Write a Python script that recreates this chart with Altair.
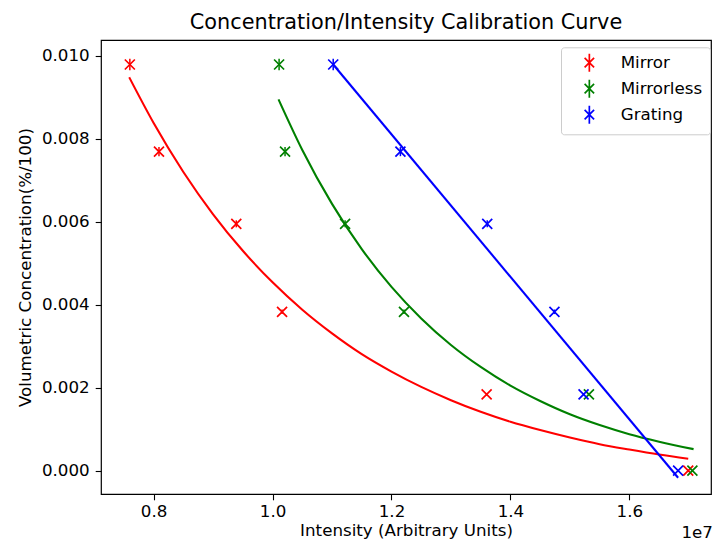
import altair as alt
import pandas as pd

series = ["Mirror", "Mirrorless", "Grating"]
colors = ["#ff0000", "#008000", "#0000ff"]

# measured concentrations (same levels for every spectrometer)
concentration = [0.00979, 0.00769, 0.00595, 0.00383, 0.00184, 0.0]
conc_err = [0.00014, 0.00011, 0.000085, 0.000055, 0.000026, 0.0]

mirror_intensity = [7.60e6, 8.09e6, 9.39e6, 10.16e6, 13.60e6, 16.99e6]
mirrorless_intensity = [10.11e6, 10.21e6, 11.22e6, 12.21e6, 15.32e6, 17.06e6]
grating_intensity = [11.02e6, 12.15e6, 13.61e6, 14.74e6, 15.23e6, 16.82e6]

# fitted curves
mirror_fit_x = [7.59e6, 8.0e6, 8.5e6, 9.0e6, 9.5e6, 10.0e6, 10.5e6, 11.0e6, 11.5e6, 12.0e6,
                12.5e6, 13.0e6, 13.5e6, 14.0e6, 14.5e6, 15.0e6, 15.5e6, 16.0e6, 16.5e6, 16.99e6]
mirror_fit_y = [0.00948, 0.00838, 0.00720, 0.00618, 0.00530, 0.00454, 0.00388, 0.00331,
                0.00281, 0.00239, 0.00202, 0.00170, 0.00142, 0.00118, 0.00098, 0.00080,
                0.00064, 0.00051, 0.00039, 0.00029]
mirrorless_fit_x = [10.10e6, 10.5e6, 11.0e6, 11.5e6, 12.0e6, 12.5e6, 13.0e6, 13.5e6, 14.0e6,
                    14.5e6, 15.0e6, 15.5e6, 16.0e6, 16.5e6, 17.08e6]
mirrorless_fit_y = [0.00895, 0.00773, 0.00643, 0.00534, 0.00443, 0.00367, 0.00303, 0.00250,
                    0.00205, 0.00168, 0.00136, 0.00110, 0.00088, 0.00070, 0.00052]
grating_fit_x = [11.02e6, 16.82e6]
grating_fit_y = [0.00979, -0.00017]

x_ticks = [8e6, 1.0e7, 1.2e7, 1.4e7, 1.6e7]
y_ticks = [0.0, 0.002, 0.004, 0.006, 0.008, 0.010]
x_domain = [7.115e6, 17.373e6]
y_domain = [-0.000561, 0.01038]

rows = []
for s, xs in zip(series, [mirror_intensity, mirrorless_intensity, grating_intensity]):
    for xv, yv, e in zip(xs, concentration, conc_err):
        rows.append({"series": s, "intensity": xv, "conc": yv, "lo": yv - e, "hi": yv + e})
pts = pd.DataFrame(rows)

frows = []
for s, xs, ys in zip(series, [mirror_fit_x, mirrorless_fit_x, grating_fit_x],
                     [mirror_fit_y, mirrorless_fit_y, grating_fit_y]):
    for i, (xv, yv) in enumerate(zip(xs, ys)):
        frows.append({"series": s, "intensity": xv, "conc": yv, "i": i})
fits = pd.DataFrame(frows)

FONT = "DejaVu Sans"
xscale = alt.Scale(domain=x_domain, nice=False, zero=False)
yscale = alt.Scale(domain=y_domain, nice=False, zero=False)
cscale = alt.Scale(domain=series, range=colors)

xaxis = alt.Axis(values=x_ticks, labelExpr="format(datum.value/1e7, '.1f')",
                 title="Intensity (Arbitrary Units)", tickSize=5.8, labelPadding=4,
                 titlePadding=2)
yaxis = alt.Axis(values=y_ticks, format=".3f", title="Volumetric Concentration(%/100)",
                 tickSize=5.8, labelPadding=6, titlePadding=7)

x_path = "M-1,-1L1,1M1,-1L-1,1"
legend_path = "M-1,-1L1,1M1,-1L-1,1M0,-1.9L0,1.9"

legend = alt.Legend(orient="none", legendX=460, legendY=7.3, symbolType=legend_path,
                    symbolSize=90, symbolStrokeWidth=1.7, fillColor="rgba(255,255,255,0.8)",
                    strokeColor="#cccccc", cornerRadius=3, padding=7, symbolOffset=13,
                    labelOffset=23, rowPadding=0, labelFontSize=16.7, labelFont=FONT,
                    labelColor="black", title=None)

color = alt.Color("series:N", scale=cscale, legend=legend)

errbars = alt.Chart(pts).mark_rule(strokeWidth=1.5).encode(
    x=alt.X("intensity:Q", scale=xscale, axis=xaxis),
    y=alt.Y("lo:Q", scale=yscale, axis=yaxis),
    y2="hi:Q",
    color=color,
)

points = alt.Chart(pts).mark_point(shape=x_path, filled=False, size=100, strokeWidth=1.7,
                                   opacity=1).encode(
    x=alt.X("intensity:Q", scale=xscale),
    y=alt.Y("conc:Q", scale=yscale),
    color=color,
)

lines = alt.Chart(fits).mark_line(interpolate="monotone", strokeWidth=2.1).encode(
    x=alt.X("intensity:Q", scale=xscale),
    y=alt.Y("conc:Q", scale=yscale),
    color=color,
    detail="series:N",
    order="i:Q",
)

offset_text = alt.Chart(pd.DataFrame({"t": ["1e7"]})).mark_text(
    align="right", baseline="middle", fontSize=16.7, font=FONT, color="black"
).encode(x=alt.value(612), y=alt.value(493), text="t:N")

chart = alt.layer(errbars, points, lines, offset_text).properties(
    width=610, height=454,
    autosize=alt.AutoSizeParams(type="none"),
    padding={"left": 93, "top": 32, "right": 2, "bottom": 51},
    title=alt.Title("Concentration/Intensity Calibration Curve", fontSize=20.8, font=FONT,
                    fontWeight="normal", color="black", anchor="middle", offset=6),
).configure_view(stroke="black", strokeWidth=1.2).configure_axis(
    labelFont=FONT, titleFont=FONT, labelFontSize=16.7, titleFontSize=16.7,
    titleFontWeight="normal", labelColor="black", titleColor="black", tickColor="black",
    domain=False, grid=False, tickWidth=1.1,
)

chart.save("out.html", embed_options={"renderer": "svg", "actions": False})
